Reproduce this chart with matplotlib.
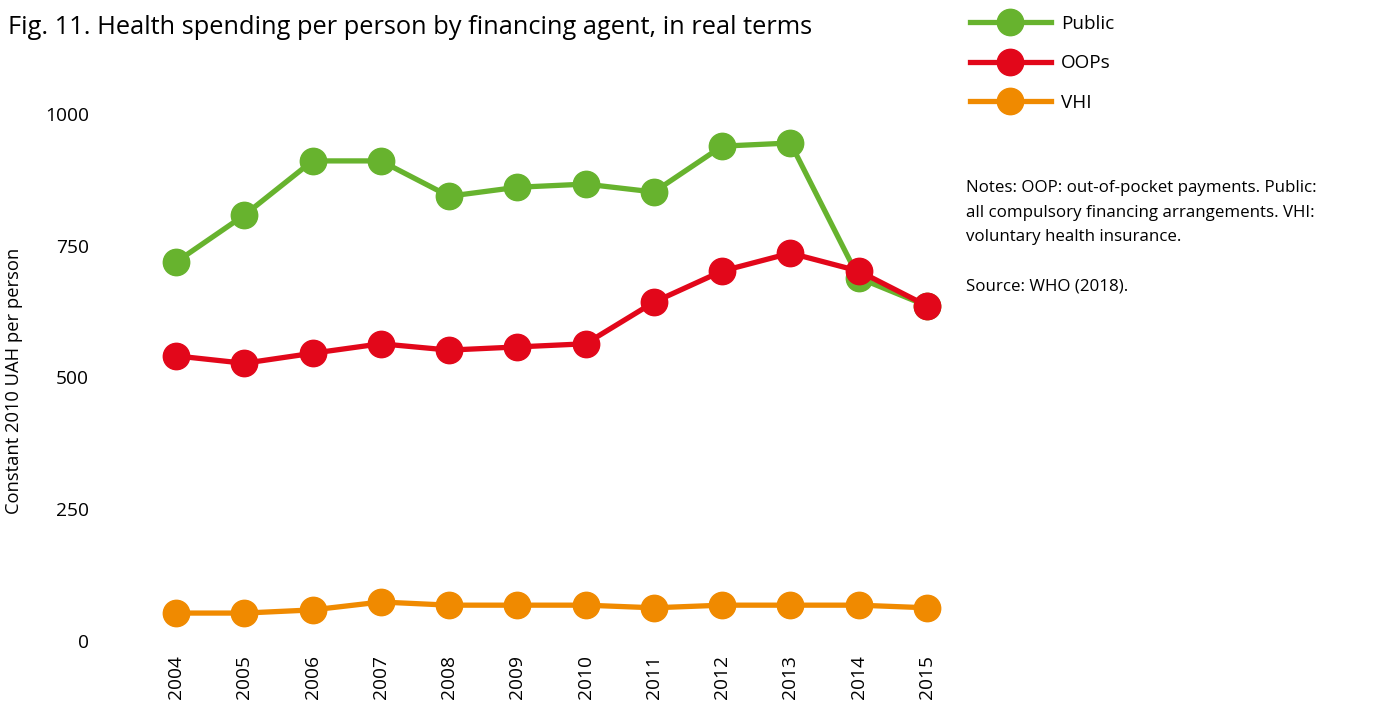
import numpy as np
import matplotlib
matplotlib.use('Agg')
import matplotlib.pyplot as plt

plt.rcParams['font.family'] = ['Open Sans', 'DejaVu Sans']

# data
years = [2004, 2005, 2006, 2007, 2008, 2009, 2010, 2011, 2012, 2013, 2014, 2015]
public = [719, 808, 911, 911, 844, 861, 867, 852, 939, 945, 689, 636]
oops = [541, 527, 546, 564, 552, 558, 564, 643, 702, 736, 702, 636]
vhi = [53, 53, 59, 74, 68, 68, 68, 63, 68, 68, 68, 63]

green = '#67b32e'
red = '#e2071a'
orange = '#f08a00'

fig = plt.figure(figsize=(13.87, 7.06), dpi=100)
# axes placed in pixel terms: left 150, right 955, top 80, bottom 645
ax = fig.add_axes([150/1387., 1 - 645/706., 805/1387., 565/706.])

lw = 3.8
ms = 19
ax.plot(years, public, '-o', color=green, lw=lw, ms=ms, label='Public', clip_on=False)
ax.plot(years, oops, '-o', color=red, lw=lw, ms=ms, label='OOPs', clip_on=False)
ax.plot(years, vhi, '-o', color=orange, lw=lw, ms=ms, label='VHI', clip_on=False)

ax.set_xlim(2004 - 26/68.27, 2015 + 28/68.27)
ax.set_ylim(-4/0.527, (641 - 80)/0.527)
ax.set_xticks(years)
ax.set_xticklabels([str(y) for y in years], rotation=90)
ax.set_yticks([0, 250, 500, 750, 1000])
ax.tick_params(length=0, labelsize=13.8)
ax.tick_params(axis='y', pad=44)
ax.tick_params(axis='x', pad=7)
for s in ax.spines.values():
    s.set_visible(False)

fig.text(8/1387., 1 - 27/706., 'Fig. 11. Health spending per person by financing agent, in real terms',
         fontsize=18.3, va='center', ha='left')
fig.text(14/1387., 1 - 381/706., 'Constant 2010 UAH per person', rotation=90,
         fontsize=13.2, va='center', ha='center')

leg = ax.legend(loc='upper left', bbox_to_anchor=(962/1387., 1 - 7/706.),
                bbox_transform=fig.transFigure, frameon=False, fontsize=13.6,
                handlelength=4.3, handletextpad=0.55, labelspacing=1.15,
                borderaxespad=0)

fig.text(966/1387., 1 - 180/706.,
         'Notes: OOP: out-of-pocket payments. Public:\nall compulsory financing arrangements. VHI:\nvoluntary health insurance.\n\nSource: WHO (2018).',
         fontsize=12.2, va='top', ha='left', linespacing=1.72)

fig.savefig('out.png', dpi=100)
